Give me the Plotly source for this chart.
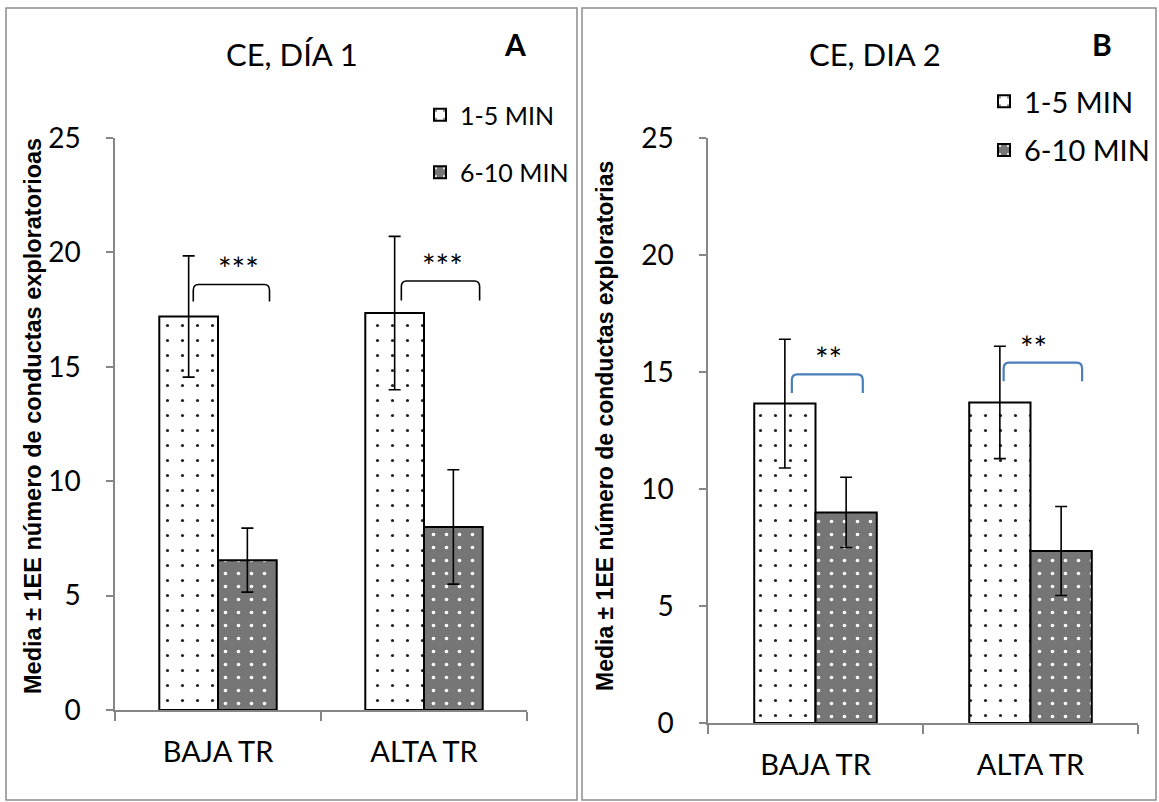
import plotly.graph_objects as go

# ---------------- data ----------------
categories = ["BAJA TR", "ALTA TR"]
series_names = ["1-5 MIN", "6-10 MIN"]

# Panel A: CE, DÍA 1
a_min1_5 = [17.2, 17.35]
a_min1_5_err = [2.65, 3.35]
a_min6_10 = [6.55, 8.0]
a_min6_10_err = [1.4, 2.5]

# Panel B: CE, DIA 2
b_min1_5 = [13.65, 13.7]
b_min1_5_err = [2.75, 2.4]
b_min6_10 = [9.0, 7.35]
b_min6_10_err = [1.5, 1.9]

# significance markers (label, bracket top, bracket end) per category
a_sig_labels = ["***", "***"]
a_sig_top = [18.6, 18.75]
a_sig_end = [17.85, 17.9]
b_sig_labels = ["**", "**"]
b_sig_top = [14.9, 15.4]
b_sig_end = [14.1, 14.6]

y_ticks = [0, 5, 10, 15, 20, 25]
titles = ["CE, DÍA 1", "CE, DIA 2"]
panel_letters = ["A", "B"]
y_titles = ["Media ± 1EE número de conductas exploratorioas",
            "Media ± 1EE número de conductas exploratorias"]

# ---------------- styling ----------------
W, H = 1159, 802
FONT = "Lato"
AXIS_GREY = "#868686"


def px_x(p):
    return p / W


def px_y(p):
    return (H - p) / H


pat_light = dict(shape=".", fgcolor="#222222", bgcolor="#ffffff", size=15, solidity=0.035, fillmode="replace")
pat_dark = dict(shape=".", fgcolor="#ffffff", bgcolor="#767676", size=13, solidity=0.06, fillmode="replace")

fig = go.Figure()

panels = [
    dict(x="x", y="y", leg="legend", vals=(a_min1_5, a_min6_10), errs=(a_min1_5_err, a_min6_10_err)),
    dict(x="x2", y="y2", leg="legend2", vals=(b_min1_5, b_min6_10), errs=(b_min1_5_err, b_min6_10_err)),
]

for pi, p in enumerate(panels):
    for si, name in enumerate(series_names):
        fig.add_trace(go.Bar(
            x=categories, y=p["vals"][si], name=name,
            xaxis=p["x"], yaxis=p["y"], legend=p["leg"],
            legendgroup=f"{p['leg']}_{si}",
            marker=dict(color="#ffffff" if si == 0 else "#767676",
                        line=dict(color="#000000", width=2),
                        pattern=pat_light if si == 0 else pat_dark),
            error_y=dict(type="data", array=p["errs"][si], visible=True,
                         color="#000000", thickness=1.6, width=6),
        ))

axis_common_y = dict(range=[0, 25], tickvals=y_ticks, showgrid=False, zeroline=False,
                     showline=True, linecolor=AXIS_GREY, linewidth=1.5,
                     ticks="outside", ticklen=7, tickcolor=AXIS_GREY, tickwidth=1.5,
                     tickfont=dict(family=FONT, size=28, color="#000000"),
                     ticklabelstandoff=20, fixedrange=True, automargin=False)
axis_common_x = dict(type="category", showgrid=False, zeroline=False,
                     showline=True, linecolor=AXIS_GREY, linewidth=1.5,
                     ticks="outside", tickson="boundaries", ticklen=9,
                     tickcolor=AXIS_GREY, tickwidth=1.5,
                     tickfont=dict(family=FONT, size=29, color="#000000"),
                     ticklabelstandoff=15, fixedrange=True, automargin=False)

fig.update_layout(
    width=W, height=H, margin=dict(l=0, r=0, t=0, b=0, autoexpand=False),
    paper_bgcolor="#ffffff", plot_bgcolor="#ffffff",
    barmode="group", bargap=0.43, bargroupgap=0,
    xaxis=dict(domain=[px_x(115), px_x(527)], anchor="y", **axis_common_x),
    yaxis=dict(domain=[px_y(710), px_y(138)], anchor="x", **axis_common_y),
    xaxis2=dict(domain=[px_x(708), px_x(1138)], anchor="y2", **axis_common_x),
    yaxis2=dict(domain=[px_y(723), px_y(138)], anchor="x2", **axis_common_y),
    legend=dict(x=px_x(420), y=px_y(92), xanchor="left", yanchor="top",
                font=dict(family=FONT, size=25, color="#000000"),
                tracegroupgap=22, bgcolor="rgba(0,0,0,0)"),
    legend2=dict(x=px_x(984), y=px_y(76), xanchor="left", yanchor="top",
                 font=dict(family=FONT, size=29, color="#000000"),
                 tracegroupgap=8, bgcolor="rgba(0,0,0,0)"),
    showlegend=True,
)

shapes = []
annotations = []

# panel borders
for x0, x1 in [(6, 577), (582, 1156)]:
    shapes.append(dict(type="rect", xref="paper", yref="paper",
                       x0=px_x(x0), x1=px_x(x1), y0=px_y(800), y1=px_y(8),
                       line=dict(color="#8c8c8c", width=1.5), fillcolor="rgba(0,0,0,0)"))

# significance brackets
bracket_specs = [
    ("x", "y", a_sig_labels, a_sig_top, a_sig_end, "#000000", 1.6, [(-0.12, 0.25), (-0.11, 0.27)], [0.10, 0.09]),
    ("x2", "y2", b_sig_labels, b_sig_top, b_sig_end, "#4a7ebb", 2.2, [(-0.11, 0.22), (-0.125, 0.24)], [0.06, 0.015]),
]
for xr, yr, labels, tops, ends, col, lw, spans, star_dx in bracket_specs:
    for ci in range(len(categories)):
        xa = ci + spans[ci][0]
        xb = ci + spans[ci][1]
        yt = tops[ci]
        ye = ends[ci]
        r = 0.25
        dx = 0.025
        path = (f"M {xa},{ye} L {xa},{yt - r} Q {xa},{yt} {xa + dx},{yt} "
                f"L {xb - dx},{yt} Q {xb},{yt} {xb},{yt - r} L {xb},{ye}")
        shapes.append(dict(type="path", xref=xr, yref=yr, path=path,
                           line=dict(color=col, width=lw)))
        annotations.append(dict(xref=xr, yref=yr, x=ci + star_dx[ci], y=yt,
                                text=labels[ci], showarrow=False, yanchor="bottom",
                                yshift=-6,
                                font=dict(family=FONT, size=32, color="#000000")))

# titles & panel letters
for (cx, letter_x, title, letter) in [(292, 515, titles[0], panel_letters[0]),
                                       (875, 1102, titles[1], panel_letters[1])]:
    annotations.append(dict(xref="paper", yref="paper", x=px_x(cx), y=px_y(54),
                            text=title, showarrow=False, xanchor="center", yanchor="middle",
                            font=dict(family=FONT, size=31, color="#000000")))
    annotations.append(dict(xref="paper", yref="paper", x=px_x(letter_x), y=px_y(44),
                            text=f"<b>{letter}</b>", showarrow=False, xanchor="center",
                            yanchor="middle",
                            font=dict(family=FONT, size=30, color="#000000")))

# y axis titles
for (cx, cy, txt, fs) in [(33, 416, y_titles[0], 23.5), (605, 426, y_titles[1], 23)]:
    annotations.append(dict(xref="paper", yref="paper", x=px_x(cx), y=px_y(cy),
                            text=f"<b>{txt}</b>", showarrow=False, textangle=-90,
                            xanchor="center", yanchor="middle",
                            font=dict(family="Liberation Sans", size=fs, color="#000000")))

fig.update_layout(shapes=shapes, annotations=annotations)

fig.write_html("out.html")
